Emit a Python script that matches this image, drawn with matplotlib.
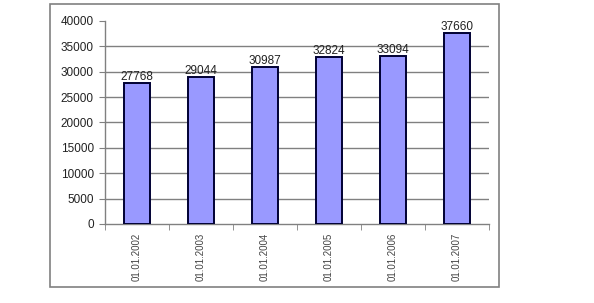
import matplotlib
matplotlib.use("Agg")
import matplotlib.pyplot as plt
from matplotlib.patches import Rectangle
import numpy as np

dates = ["01.01.2002", "01.01.2003", "01.01.2004", "01.01.2005", "01.01.2006", "01.01.2007"]
values = [27768, 29044, 30987, 32824, 33094, 37660]
yticks = [0, 5000, 10000, 15000, 20000, 25000, 30000, 35000, 40000]

plt.rcParams['font.family'] = ['Liberation Sans', 'DejaVu Sans']
W, H = 594, 303
fig = plt.figure(figsize=(W / 100, H / 100), dpi=100, facecolor="white")

# outer chart frame
fig.patches.append(Rectangle((50 / W, 1 - 287 / H), 449 / W, 283 / H, transform=fig.transFigure,
                             fill=False, edgecolor="#808080", linewidth=1.2))

ax = fig.add_axes([105 / W, 1 - 224 / H, 384 / W, 203 / H])
idx = np.arange(len(values))
ax.bar(idx, values, width=0.4, color="#9999FF", edgecolor="#000033", linewidth=1.4, zorder=3)
for i, v in zip(idx, values):
    ax.text(i, v + 600, str(v), ha="center", va="baseline", fontsize=8.5, color="#222222", zorder=4)

ax.set_xlim(-0.5, len(values) - 0.5)
ax.set_ylim(0, 40000)
ax.set_yticks(yticks)
ax.set_yticklabels([str(t) for t in yticks], fontsize=8.5, color="#222222")
ax.set_xticks(idx)
ax.set_xticklabels(dates, rotation=90, fontsize=7, color="#444444")
ax.set_xticks(np.arange(len(values) + 1) - 0.5, minor=True)
ax.tick_params(axis="x", which="major", length=0, pad=6)
ax.tick_params(axis="x", which="minor", length=4, color="#808080", direction="out")
ax.tick_params(axis="y", length=4, color="#808080", direction="out", pad=4)

ax.yaxis.grid(True, color="#808080", linewidth=1.0, zorder=0)
ax.get_ygridlines()[-1].set_visible(False)
ax.get_ygridlines()[0].set_visible(False)
for s in ["top", "right"]:
    ax.spines[s].set_visible(False)
for s in ["left", "bottom"]:
    ax.spines[s].set_color("#808080")
    ax.spines[s].set_linewidth(1.0)

fig.savefig("out.png", dpi=100)
